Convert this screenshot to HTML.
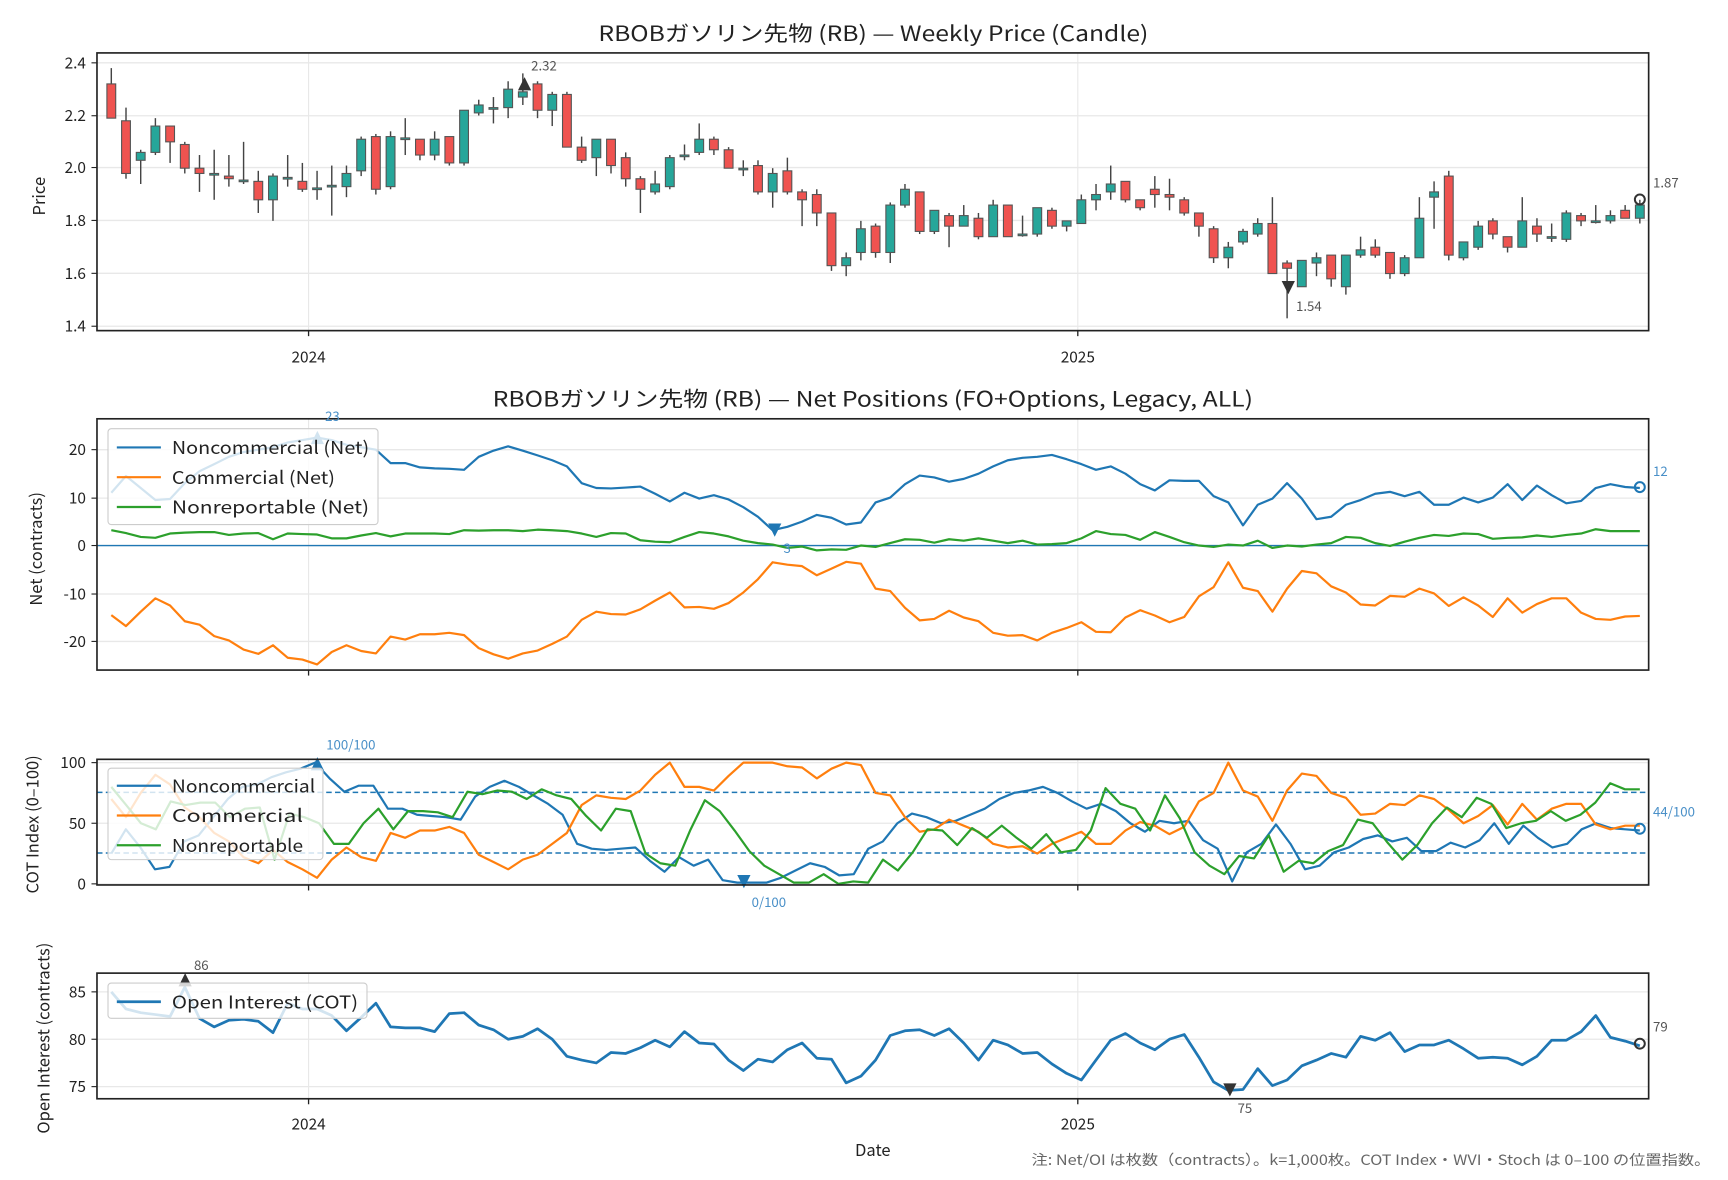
<!DOCTYPE html>
<html><head><meta charset="utf-8"><style>
html,body{margin:0;padding:0;background:#fff;}
svg{display:block;font-family:"Noto Sans CJK JP","Liberation Sans",sans-serif;}
</style></head><body>
<svg id="s" width="1728" height="1180" viewBox="0 0 1568 1070.7" xmlns="http://www.w3.org/2000/svg">
<g id="grid"></g>
<g id="plot"></g>
<g fill="#222" font-size="14">
<text x="543" y="37" font-size="19" textLength="499" lengthAdjust="spacingAndGlyphs">RBOBガソリン先物 (RB) — Weekly Price (Candle)</text>
<text x="447" y="369" font-size="19" textLength="690" lengthAdjust="spacingAndGlyphs">RBOBガソリン先物 (RB) — Net Positions (FO+Options, Legacy, ALL)</text>
<g text-anchor="end">
<text x="78" y="62">2.4</text><text x="78" y="110">2.2</text><text x="78" y="157">2.0</text><text x="78" y="205">1.8</text><text x="78" y="253">1.6</text><text x="78" y="301">1.4</text>
<text x="78" y="413">20</text><text x="78" y="457">10</text><text x="78" y="500">0</text><text x="78" y="544">-10</text><text x="78" y="587">-20</text>
<text x="78" y="697">100</text><text x="78" y="752">50</text><text x="78" y="807">0</text>
<text x="78" y="905">85</text><text x="78" y="948">80</text><text x="78" y="991">75</text>
</g>
<g text-anchor="middle">
<text x="280" y="329">2024</text><text x="978" y="329">2025</text>
<text x="280" y="1025">2024</text><text x="978" y="1025">2025</text>
<text x="792" y="1049" font-size="15">Date</text>
</g>
<text transform="translate(41,178) rotate(-90)" text-anchor="middle" font-size="15">Price</text>
<text transform="translate(38,498) rotate(-90)" text-anchor="middle" font-size="15">Net (contracts)</text>
<text transform="translate(35,748) rotate(-90)" text-anchor="middle" font-size="15">COT Index (0–100)</text>
<text transform="translate(45,942) rotate(-90)" text-anchor="middle" font-size="15">Open Interest (contracts)</text>
<text x="936" y="1057" font-size="13" fill="#666" textLength="616" lengthAdjust="spacingAndGlyphs">注: Net/OI は枚数（contracts）。k=1,000枚。COT Index・WVI・Stoch は 0–100 の位置指数。</text>
</g>
<g id="ann" font-size="12">
<text x="482" y="64" fill="#555">2.32</text>
<text x="1176" y="282" fill="#555">1.54</text>
<text x="1500" y="170" fill="#555">1.87</text>
<text x="295" y="382" fill="#4a90c8">23</text>
<text x="711" y="502" fill="#4a90c8">3</text>
<text x="1500" y="432" fill="#4a90c8">12</text>
<text x="296" y="680" fill="#4a90c8">100/100</text>
<text x="682" y="823" fill="#4a90c8">0/100</text>
<text x="1500" y="741" fill="#4a90c8">44/100</text>
<text x="176" y="880" fill="#555">86</text>
<text x="1123" y="1010" fill="#555">75</text>
<text x="1500" y="936" fill="#555">79</text>
</g>
<g id="leg" font-size="16" fill="#222">
<rect x="98" y="389" width="245" height="87" rx="3" fill="#fff" fill-opacity="0.8" stroke="#ccc"/>
<line x1="106" y1="406" x2="146" y2="406" stroke="#1f77b4" stroke-width="2"/><text x="156" y="412" textLength="179" lengthAdjust="spacingAndGlyphs">Noncommercial (Net)</text>
<line x1="106" y1="433" x2="146" y2="433" stroke="#ff7f0e" stroke-width="2"/><text x="156" y="439" textLength="148" lengthAdjust="spacingAndGlyphs">Commercial (Net)</text>
<line x1="106" y1="460" x2="146" y2="460" stroke="#2ca02c" stroke-width="2"/><text x="156" y="466" textLength="179" lengthAdjust="spacingAndGlyphs">Nonreportable (Net)</text>
<rect x="98" y="697" width="195" height="83" rx="3" fill="#fff" fill-opacity="0.8" stroke="#ccc"/>
<line x1="106" y1="713" x2="146" y2="713" stroke="#1f77b4" stroke-width="2"/><text x="156" y="719" textLength="130" lengthAdjust="spacingAndGlyphs">Noncommercial</text>
<line x1="106" y1="740" x2="146" y2="740" stroke="#ff7f0e" stroke-width="2"/><text x="156" y="746" textLength="119" lengthAdjust="spacingAndGlyphs">Commercial</text>
<line x1="106" y1="767" x2="146" y2="767" stroke="#2ca02c" stroke-width="2"/><text x="156" y="773" textLength="119" lengthAdjust="spacingAndGlyphs">Nonreportable</text>
<rect x="98" y="892" width="235" height="32" rx="3" fill="#fff" fill-opacity="0.8" stroke="#ccc"/>
<line x1="106" y1="909" x2="146" y2="909" stroke="#1f77b4" stroke-width="2.5"/><text x="156" y="915" textLength="169" lengthAdjust="spacingAndGlyphs">Open Interest (COT)</text>
</g>
<g fill="none" stroke="#222" stroke-width="1.5">
<rect x="88" y="48" width="1408" height="252"/>
<rect x="88" y="380" width="1408" height="228"/>
<rect x="88" y="689" width="1408" height="114"/>
<rect x="88" y="883" width="1408" height="114"/>
</g>
</svg>
<script>
const NS="http://www.w3.org/2000/svg";
const grid=document.getElementById('grid'),plot=document.getElementById('plot');
function el(p,t,a){const e=document.createElementNS(NS,t);for(const k in a)e.setAttribute(k,a[k]);p.appendChild(e);return e;}
const X0=88,X1=1496;
function hl(y){el(grid,'line',{x1:X0,x2:X1,y1:y,y2:y,stroke:'#e8e8e8','stroke-width':1.2});el(grid,'line',{x1:X0-5,x2:X0,y1:y,y2:y,stroke:'#222','stroke-width':1});}
[57,105,152,200,248,296,408,452,495,539,582,692,747,802,900,943,986].forEach(hl);
[[48,300,300],[380,608,608],[689,803,803],[883,997,997]].forEach(([a,b,t])=>{[280,978].forEach(x=>{el(grid,'line',{x1:x,x2:x,y1:a,y2:b,stroke:'#e8e8e8','stroke-width':1});el(grid,'line',{x1:x,x2:x,y1:t,y2:t+5,stroke:'#222','stroke-width':1.2});});});
const C=[[2.32,2.19,2.38,2.19],[2.18,1.98,2.23,1.96],[2.03,2.06,2.07,1.94],[2.06,2.16,2.19,2.05],[2.16,2.10,2.16,2.02],[2.09,2.00,2.10,1.98],[2.00,1.98,2.05,1.91],[1.98,1.98,2.07,1.88],[1.97,1.96,2.05,1.93],[1.955,1.955,2.10,1.94],
[1.95,1.88,1.99,1.83],[1.88,1.97,1.98,1.80],[1.965,1.965,2.05,1.93],[1.95,1.92,2.02,1.91],[1.925,1.925,1.99,1.88],[1.935,1.935,2.01,1.82],[1.93,1.98,2.01,1.89],[1.99,2.11,2.12,1.97],[2.12,1.92,2.13,1.90],[1.93,2.12,2.14,1.92],
[2.115,2.115,2.19,2.05],[2.11,2.05,2.11,2.03],[2.05,2.11,2.14,2.03],[2.12,2.02,2.12,2.01],[2.02,2.22,2.22,2.01],[2.21,2.24,2.26,2.20],[2.23,2.23,2.27,2.17],[2.23,2.30,2.33,2.19],[2.27,2.29,2.36,2.24],[2.32,2.22,2.33,2.19],
[2.22,2.28,2.29,2.16],[2.28,2.08,2.29,2.08],[2.08,2.03,2.12,2.02],[2.04,2.11,2.11,1.97],[2.11,2.01,2.11,1.98],[2.04,1.96,2.06,1.93],[1.96,1.92,1.97,1.83],[1.91,1.94,1.99,1.90],[1.93,2.04,2.05,1.92],[2.05,2.05,2.09,2.03],
[2.06,2.11,2.17,2.05],[2.11,2.07,2.12,2.05],[2.07,2.00,2.08,2.00],[2.00,2.00,2.03,1.97],[2.01,1.91,2.03,1.90],[1.91,1.98,2.00,1.85],[1.99,1.91,2.04,1.90],[1.91,1.88,1.92,1.78],[1.90,1.83,1.92,1.78],[1.83,1.63,1.83,1.61],
[1.63,1.66,1.68,1.59],[1.68,1.77,1.80,1.65],[1.78,1.68,1.79,1.66],[1.68,1.86,1.87,1.64],[1.86,1.92,1.94,1.85],[1.91,1.76,1.91,1.75],[1.76,1.84,1.84,1.75],[1.82,1.78,1.83,1.70],[1.78,1.82,1.86,1.78],[1.81,1.74,1.83,1.73],
[1.74,1.86,1.88,1.74],[1.86,1.74,1.86,1.74],[1.75,1.75,1.82,1.74],[1.75,1.85,1.85,1.74],[1.84,1.78,1.85,1.77],[1.78,1.80,1.80,1.76],[1.79,1.88,1.90,1.79],[1.88,1.90,1.94,1.84],[1.91,1.94,2.01,1.88],[1.95,1.88,1.95,1.87],
[1.88,1.85,1.88,1.84],[1.92,1.90,1.97,1.85],[1.90,1.89,1.96,1.84],[1.88,1.83,1.89,1.82],[1.83,1.78,1.83,1.74],[1.77,1.66,1.78,1.64],[1.66,1.70,1.72,1.62],[1.72,1.76,1.77,1.71],[1.75,1.79,1.81,1.74],[1.79,1.60,1.89,1.60],
[1.64,1.62,1.65,1.43],[1.55,1.65,1.65,1.55],[1.64,1.66,1.68,1.59],[1.67,1.58,1.67,1.55],[1.55,1.67,1.67,1.52],[1.67,1.69,1.74,1.66],[1.70,1.67,1.73,1.66],[1.68,1.60,1.68,1.58],[1.60,1.66,1.67,1.59],[1.66,1.81,1.89,1.66],
[1.89,1.91,1.95,1.77],[1.97,1.67,1.99,1.65],[1.66,1.72,1.72,1.65],[1.70,1.78,1.80,1.69],[1.80,1.75,1.81,1.73],[1.74,1.70,1.74,1.68],[1.70,1.80,1.89,1.70],[1.78,1.75,1.81,1.72],[1.74,1.74,1.79,1.72],[1.73,1.83,1.84,1.72],
[1.82,1.80,1.83,1.78],[1.80,1.80,1.86,1.79],[1.80,1.82,1.84,1.79],[1.84,1.81,1.86,1.81],[1.81,1.86,1.88,1.79]];
const py=p=>57+(2.4-p)*239;
const n=C.length,dx=(1488-101)/(n-1);
C.forEach((c,i)=>{const x=101+i*dx;const[o,cl,h,l]=c;
el(plot,'line',{x1:x,x2:x,y1:py(h),y2:py(l),stroke:'#444','stroke-width':1.3});
let t=py(Math.max(o,cl)),b=py(Math.min(o,cl));if(b-t<1.5){b=t+1.5;}
el(plot,'rect',{x:x-4,y:t,width:8,height:b-t,fill:cl>=o?'#26a69a':'#ef5350',stroke:'#555','stroke-width':1});});
function tri(x,y,up,col){const s=6;el(plot,'path',{d:up?`M${x-s} ${y+s}L${x+s} ${y+s}L${x} ${y-s}Z`:`M${x-s} ${y-s}L${x+s} ${y-s}L${x} ${y+s}Z`,fill:col});}
function circ(x,y,col){el(plot,'circle',{cx:x,cy:y,r:4.5,fill:'none',stroke:col,'stroke-width':1.8});}
tri(476,76,true,'#333');tri(1169,261,false,'#333');circ(1488,181,'#333');
function line(arr,f,col,w){const m=arr.length,d=(1488-101)/(m-1);el(plot,'polyline',{points:arr.map((v,i)=>(101+i*d).toFixed(1)+','+f(v).toFixed(1)).join(' '),fill:'none',stroke:col,'stroke-width':w,'stroke-linejoin':'round'});}
const ny=v=>495-v*4.35;
el(plot,'line',{x1:X0,x2:X1,y1:495,y2:495,stroke:'#1f77b4','stroke-width':1.3});
const NB=[11,14.5,12,9.5,9.7,13,15.5,17,18.5,19.5,20,20.5,21.5,22,22.5,22,21,20.5,20,17.2,17.2,16.3,16.1,16,15.8,18.5,19.8,20.7,19.8,18.8,17.8,16.5,13,12,11.9,12.1,12.3,10.8,9.2,11,9.8,10.5,9.6,8,6,3.2,3.9,5,6.4,5.8,4.4,4.8,9,10,12.8,14.6,14.2,13.3,13.9,15,16.5,17.8,18.3,18.5,18.9,18,17,15.8,16.5,15,12.8,11.5,13.6,13.5,13.5,10.3,9,4.2,8.5,9.8,13,9.8,5.5,6,8.5,9.5,10.8,11.2,10.3,11.2,8.5,8.5,10,9,10,12.8,9.5,12.5,10.5,8.8,9.3,12,12.8,12.2,12];
const NO=[-14.5,-16.8,-13.8,-11,-12.5,-15.8,-16.5,-18.9,-19.8,-21.7,-22.6,-20.8,-23.4,-23.8,-24.8,-22.2,-20.8,-22,-22.5,-19,-19.6,-18.5,-18.5,-18.2,-18.7,-21.4,-22.7,-23.6,-22.5,-21.9,-20.5,-19,-15.5,-13.8,-14.3,-14.4,-13.3,-11.5,-9.8,-12.9,-12.8,-13.2,-12,-9.8,-7,-3.5,-4,-4.3,-6.2,-4.8,-3.4,-3.8,-9,-9.5,-13,-15.6,-15.3,-13.6,-15,-15.8,-18.2,-18.8,-18.7,-19.8,-18.2,-17.2,-16,-18,-18.1,-15,-13.5,-14.6,-16,-14.9,-10.6,-8.7,-3.5,-8.8,-9.5,-13.8,-9,-5.3,-5.8,-8.5,-9.8,-12.3,-12.5,-10.5,-10.7,-9,-10,-12.6,-10.8,-12.5,-14.9,-11,-14,-12.2,-11,-11,-14,-15.3,-15.5,-14.8,-14.7];
const NG=[3.2,2.6,1.8,1.6,2.5,2.7,2.8,2.8,2.2,2.5,2.6,1.3,2.5,2.4,2.3,1.5,1.5,2.1,2.6,1.9,2.5,2.5,2.5,2.4,3.2,3.1,3.2,3.2,3,3.3,3.2,3,2.5,1.8,2.6,2.5,1.1,0.8,0.7,1.8,2.8,2.5,1.9,1,0.5,0.2,-0.5,-0.2,-1,-0.8,-0.9,0,-0.3,0.5,1.3,1.2,0.6,1.3,1,1.5,1,0.5,1,0.2,0.3,0.5,1.5,3,2.4,2.2,1.2,2.8,1.8,0.7,0,-0.3,0.2,0,1,-0.5,0,-0.2,0.2,0.5,1.8,1.6,0.5,-0.1,0.8,1.6,2.2,2,2.5,2.4,1.4,1.6,1.7,2.1,1.8,2.2,2.5,3.4,3,3,3];
line(NB,ny,'#1f77b4',2);line(NO,ny,'#ff7f0e',2);line(NG,ny,'#2ca02c',2);
tri(288,397,true,'#1f77b4');tri(703,481,false,'#1f77b4');circ(1488,442,'#1f77b4');
const cy=v=>802-v*1.1;
[719,774].forEach(y=>el(plot,'line',{x1:X0,x2:X1,y1:y,y2:y,stroke:'#1f77b4','stroke-width':1.3,'stroke-dasharray':'5,3'}));
const CB=[25,45,30,12,14,35,40,55,70,80,82,88,92,95,100,87,76,81,81,62,62,57,56,55,53,72,80,85,80,73,66,57,33,29,28,29,30,19,10,22,15,20,3,1,1,1,5,11,17,14,7,8,29,35,50,58,55,50,52,57,62,70,75,77,80,75,68,62,66,60,50,43,52,50,52,36,29,2,26,33,49,33,12,15,26,30,37,40,35,38,27,27,34,30,36,50,33,48,38,30,33,45,50,46,45,44];
const CO=[70,55,75,90,82,63,55,42,35,22,17,28,18,12,5,20,30,22,19,42,38,44,44,47,42,24,18,12,20,24,33,42,65,73,71,70,77,90,100,80,80,77,89,100,100,100,97,96,87,95,100,98,75,73,55,43,45,53,48,43,33,30,31,25,33,38,43,33,33,44,51,48,41,47,68,75,100,77,72,52,77,91,89,75,71,57,58,66,65,73,70,61,50,56,65,49,66,53,62,66,66,49,45,48,48];
const CG=[80,65,50,45,68,65,67,67,55,62,63,20,58,55,50,33,33,50,62,45,60,60,59,55,76,74,77,76,70,78,73,70,56,44,62,60,25,17,15,44,69,60,44,27,15,8,1,1,8,0,2,1,20,11,26,45,44,32,46,38,48,38,29,41,26,28,44,79,66,62,44,73,54,26,15,8,23,21,40,10,19,17,27,32,53,50,34,20,32,50,63,55,71,66,46,50,52,60,52,57,67,83,78,78];
line(CB,cy,'#1f77b4',2);line(CO,cy,'#ff7f0e',2);line(CG,cy,'#2ca02c',2);
tri(288,693,true,'#1f77b4');tri(675,800,false,'#1f77b4');circ(1488,752,'#1f77b4');
const oy=v=>943-(v-80)*8.6;
const OI=[85,83.2,82.8,82.6,82.4,85.5,82.2,81.3,82,82.1,81.9,80.7,83.8,83.2,83.2,82.5,80.9,82.3,83.8,81.3,81.2,81.2,80.8,82.7,82.8,81.5,81,80,80.3,81.1,80,78.2,77.8,77.5,78.6,78.5,79.1,79.9,79.2,80.8,79.6,79.5,77.8,76.7,77.9,77.6,78.9,79.6,78,77.9,75.4,76.1,77.8,80.4,80.9,81,80.4,81.1,79.6,77.8,79.9,79.4,78.5,78.6,77.4,76.4,75.7,77.8,79.9,80.6,79.6,78.9,80,80.5,78.1,75.5,74.6,74.7,76.9,75.1,75.7,77.2,77.8,78.5,78.1,80.3,79.9,80.7,78.7,79.4,79.4,79.9,79,78,78.1,78,77.3,78.2,79.9,79.9,80.8,82.5,80.2,79.8,79.3];
line(OI,oy,'#1f77b4',2.5);
tri(168,889,true,'#333');tri(1116,989,false,'#333');circ(1488,947,'#333');
const s=document.getElementById('s');s.appendChild(document.getElementById('leg'));s.appendChild(document.getElementById('ann'));
</script>
</body></html>
